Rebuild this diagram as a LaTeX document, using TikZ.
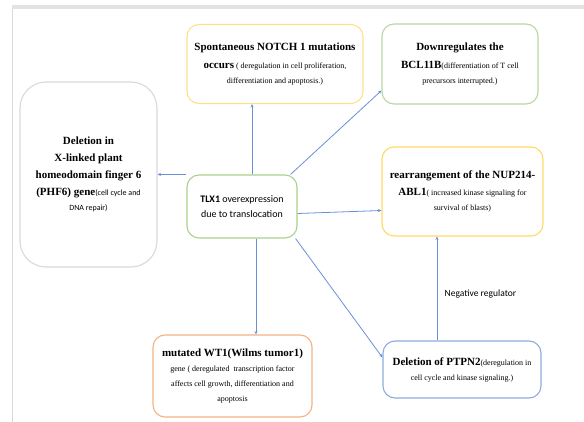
\documentclass[tikz,border=0pt]{standalone}
\usepackage{fontspec}
\setmainfont{Liberation Serif}
\newfontfamily\timesf{Liberation Serif}
\newfontfamily\calibri{Carlito}
\usetikzlibrary{arrows.meta,positioning,calc}

\definecolor{notchcol}{HTML}{FFE08A}
\definecolor{bclcol}{HTML}{B7D7A0}
\definecolor{phfcol}{HTML}{D9D9D9}
\definecolor{tlxcol}{HTML}{A9D18E}
\definecolor{nupcol}{HTML}{FFD966}
\definecolor{wtcol}{HTML}{F4B183}
\definecolor{ptpncol}{HTML}{8FAADC}
\definecolor{linkcol}{HTML}{6A8FD8}

\newcommand{\ttl}[1]{{\timesf\fontsize{11}{15}\selectfont\bfseries #1}}

\begin{document}
\begin{tikzpicture}[x=1pt,y=-1pt,
    gbox/.style={draw, line width=1.1pt, rounded corners=12pt, align=center,
                 inner sep=0pt, font=\timesf\fontsize{8}{15}\selectfont},
    link/.style={draw=linkcol, line width=0.8pt, -{Stealth[length=3.5pt,width=3pt]}}]
\useasboundingbox (0,0) rectangle (584,422);

% page frame
\fill[gray!22] (12,5) rectangle (584,9);
\draw[gray!30, line width=0.8pt] (12,9) -- (12,422);

% boxes
\node[gbox, draw=notchcol, minimum width=176pt, minimum height=79pt] (notch) at (275,64)
  {\ttl{Spontaneous NOTCH 1 mutations}\\[3pt]
   \ttl{occurs} ( deregulation in cell proliferation,\\
   differentiation and apoptosis.)};

\node[gbox, draw=bclcol, minimum width=156pt, minimum height=80pt] (bcl) at (460,64)
  {\ttl{Downregulates the}\\[3pt]
   \ttl{BCL11B}(differentiation of T cell\\
   precursors interrupted.)};

\node[gbox, draw=phfcol, rounded corners=26pt, minimum width=137pt, minimum height=185pt] (phf) at (88.5,174.5)
  {\ttl{Deletion in}\\[2pt]
   \ttl{X-linked plant}\\[2pt]
   \ttl{homeodomain finger 6}\\[2pt]
   \ttl{(PHF6) gene}{\calibri(cell cycle and}\\
   {\calibri DNA repair)}};

\node[gbox, draw=tlxcol, minimum width=110pt, minimum height=63pt,
      font=\calibri\fontsize{10}{15}\selectfont] (tlx) at (242,206.5)
  {\textbf{TLX1} overexpression\\due to translocation};

\node[gbox, draw=nupcol, minimum width=161pt, minimum height=89pt] (nup) at (462.5,191.5)
  {\ttl{rearrangement of the NUP214-}\\[2pt]
   \ttl{ABL1}( increased kinase signaling for\\
   survival of blasts)};

\node[gbox, draw=wtcol, minimum width=159pt, minimum height=82pt] (wt) at (232.5,376)
  {\ttl{mutated WT1(Wilms tumor1)}\\
   gene ( deregulated\ \ transcription factor\\
   affects cell growth, differentiation and\\
   apoptosis};

\node[gbox, draw=ptpncol, minimum width=158pt, minimum height=57pt] (ptpn) at (462,369.5)
  {\ttl{Deletion of PTPN2}(deregulation in\\
   cell cycle and kinase signaling.)};

% connectors
\draw[link] ([xshift=10pt]tlx.north) -- ([xshift=10pt]tlx.north |- notch.south);
\draw[link] ([xshift=-7pt]tlx.north east) -- ([yshift=14pt]bcl.south west);
\draw[link] (tlx.north west) -- (tlx.north west -| phf.east);
\draw[link] ([yshift=-7pt]tlx.east) -- ([yshift=-19pt]nup.west);
\draw[link] ([xshift=14pt]tlx.south) -- ([xshift=14pt]tlx.south |- wt.north);
\draw[link] ([xshift=-2pt]tlx.south east) -- ([yshift=12pt]ptpn.west);
\draw[link] ([xshift=-25pt]ptpn.north) -- node[right=4pt, yshift=-6pt,
      font=\calibri\fontsize{9.5}{12}\selectfont] (negreg) {Negative regulator}
  ([xshift=-25pt]ptpn.north |- nup.south);
\end{tikzpicture}
\end{document}
